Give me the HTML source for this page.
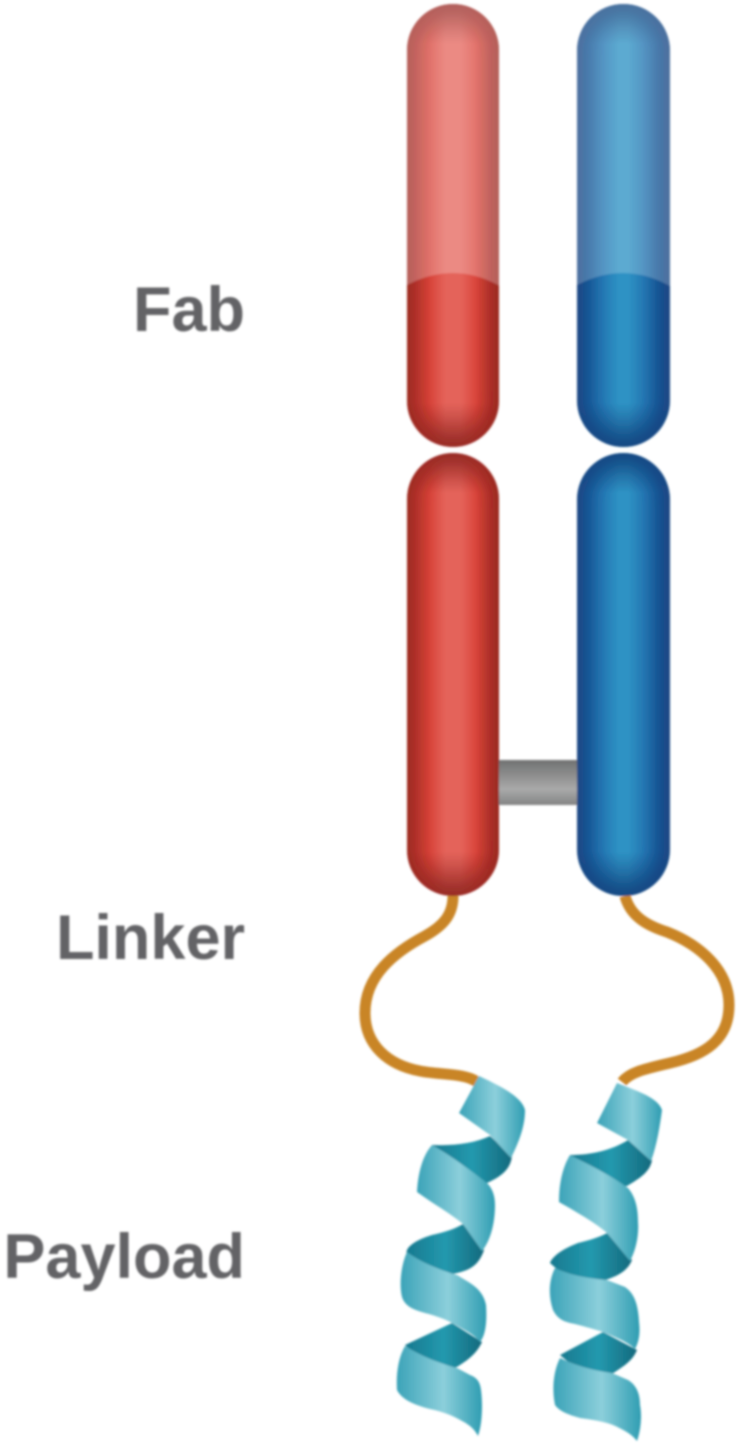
<!DOCTYPE html>
<html><head><meta charset="utf-8"><style>
html,body{margin:0;padding:0;background:#fff}
svg{display:block}
text{font-family:"Liberation Sans",sans-serif;font-weight:bold;font-size:63px;fill:#636466;text-anchor:end}
</style></head><body>
<svg width="748" height="1455" viewBox="0 0 748 1455" xmlns="http://www.w3.org/2000/svg">
<defs>
<linearGradient id="r" x1="0" x2="1" y1="0" y2="0">
<stop offset="0" stop-color="#a8302a"/><stop offset=".1" stop-color="#c0372f"/><stop offset=".25" stop-color="#da463c"/><stop offset=".42" stop-color="#e4635a"/><stop offset=".58" stop-color="#e4635a"/><stop offset=".75" stop-color="#dc483e"/><stop offset=".9" stop-color="#bb352d"/><stop offset="1" stop-color="#a32e28"/>
</linearGradient>
<linearGradient id="b" x1="0" x2="1" y1="0" y2="0">
<stop offset="0" stop-color="#1b4f8c"/><stop offset=".12" stop-color="#1d5e9e"/><stop offset=".3" stop-color="#257cb6"/><stop offset=".45" stop-color="#2e92c4"/><stop offset=".55" stop-color="#2e92c4"/><stop offset=".7" stop-color="#257bb5"/><stop offset=".88" stop-color="#1c5a9a"/><stop offset="1" stop-color="#1a4d8a"/>
</linearGradient>
<linearGradient id="re" x1="0" x2="0" y1="0" y2="1">
<stop offset="0" stop-color="#8e2420" stop-opacity=".8"/><stop offset=".09" stop-color="#8e2420" stop-opacity="0"/><stop offset=".9" stop-color="#8e2420" stop-opacity="0"/><stop offset="1" stop-color="#8e2420" stop-opacity=".8"/>
</linearGradient>
<linearGradient id="be" x1="0" x2="0" y1="0" y2="1">
<stop offset="0" stop-color="#123f7a" stop-opacity=".8"/><stop offset=".09" stop-color="#123f7a" stop-opacity="0"/><stop offset=".9" stop-color="#123f7a" stop-opacity="0"/><stop offset="1" stop-color="#123f7a" stop-opacity=".8"/>
</linearGradient>
<linearGradient id="g" x1="0" x2="0" y1="0" y2="1">
<stop offset="0" stop-color="#707171"/><stop offset=".3" stop-color="#8a8b8b"/><stop offset=".65" stop-color="#a9aaaa"/><stop offset="1" stop-color="#838484"/>
</linearGradient>
<linearGradient id="t" x1="0" x2="1" y1="0" y2="0">
<stop offset="0" stop-color="#3ba3b8"/><stop offset=".55" stop-color="#8ccfdb"/><stop offset="1" stop-color="#2f9db2"/>
</linearGradient>
<linearGradient id="d" x1="0" x2="1" y1="0" y2="0">
<stop offset="0" stop-color="#17798f"/><stop offset=".5" stop-color="#2399ae"/><stop offset="1" stop-color="#14697d"/>
</linearGradient>
<filter id="s" x="-30%" y="-30%" width="160%" height="160%"><feGaussianBlur stdDeviation="10"/></filter>
<filter id="soft" x="-5%" y="-5%" width="110%" height="110%"><feGaussianBlur stdDeviation="1.1"/></filter>
<clipPath id="c1"><rect x="407" y="4" width="92" height="443" rx="46"/></clipPath>
<clipPath id="c2"><rect x="407" y="453" width="92" height="443" rx="46"/></clipPath>
<clipPath id="c3"><rect x="577" y="4" width="93" height="443" rx="46.5"/></clipPath>
<clipPath id="c4"><rect x="577" y="453" width="93" height="443" rx="46.5"/></clipPath>
</defs>

<g filter="url(#soft)">
<rect x="497" y="760" width="82" height="45" fill="url(#g)"/>

<g fill="none" stroke="#c98526" stroke-width="11" stroke-linecap="butt">
<path d="M453 896C453 915 443 926 425 936C395 952 365 975 365 1013C365 1045 388 1065 420 1071C440 1075 465 1073 477 1082"/>
<path d="M625 896C630 915 645 925 667 932C700 945 729 970 729 1005C729 1040 705 1055 670 1063C645 1069 630 1072 622 1082"/>
</g>

<g clip-path="url(#c1)">
<rect x="407" y="4" width="92" height="443" fill="url(#r)"/>
<rect x="407" y="4" width="92" height="443" rx="46" fill="none" stroke="#8e2420" stroke-width="16" stroke-opacity=".7" filter="url(#s)"/>
<rect x="407" y="4" width="92" height="443" fill="url(#re)"/>
<path d="M400 0H505V289Q453 257 400 289Z" fill="#fff" fill-opacity=".25"/>
</g>
<g clip-path="url(#c2)">
<rect x="407" y="453" width="92" height="443" fill="url(#r)"/>
<rect x="407" y="453" width="92" height="443" rx="46" fill="none" stroke="#8e2420" stroke-width="16" stroke-opacity=".7" filter="url(#s)"/>
<rect x="407" y="453" width="92" height="443" fill="url(#re)"/>
</g>

<g clip-path="url(#c3)">
<rect x="577" y="4" width="93" height="443" fill="url(#b)"/>
<rect x="577" y="4" width="93" height="443" rx="46.5" fill="none" stroke="#123f7a" stroke-width="16" stroke-opacity=".65" filter="url(#s)"/>
<rect x="577" y="4" width="93" height="443" fill="url(#be)"/>
<path d="M570 0H675V289Q623 257 570 289Z" fill="#fff" fill-opacity=".22"/>
</g>
<g clip-path="url(#c4)">
<rect x="577" y="453" width="93" height="443" fill="url(#b)"/>
<rect x="577" y="453" width="93" height="443" rx="46.5" fill="none" stroke="#123f7a" stroke-width="16" stroke-opacity=".65" filter="url(#s)"/>
<rect x="577" y="453" width="93" height="443" fill="url(#be)"/>
</g>

<!-- left helix -->
<path fill="url(#d)" d="M432 1145C455 1146 475 1143 490 1136L512 1155C511 1170 500 1177 487 1183L460 1190L440 1165Z"/>
<path fill="url(#d)" d="M463 1224L484 1250C479 1265 470 1270 457 1273L430 1280L407 1255C404 1248 415 1240 432 1235C445 1232 455 1229 463 1224Z"/>
<path fill="url(#d)" d="M452 1323L482 1342C476 1355 465 1362 455 1368L425 1365L405 1345Z"/>
<path fill="url(#t)" d="M479 1076L459 1113L490 1135L511 1158C520 1140 525 1125 525 1110C522 1098 505 1088 479 1076Z"/>
<path fill="url(#t)" d="M432 1145C423 1155 418 1172 417 1192C435 1205 450 1213 463 1224L482 1251C491 1240 495 1222 495 1205C495 1195 492 1188 487 1183C470 1170 450 1155 432 1145Z"/>
<path fill="url(#t)" d="M407 1252C401 1265 399 1285 402 1297C405 1307 415 1310 425 1313C437 1316 447 1320 452 1323C465 1330 475 1335 480 1342C486 1335 487 1320 486 1305C484 1295 478 1288 470 1283L457 1275C440 1270 420 1262 407 1252Z"/>
<path fill="url(#t)" d="M405 1346C398 1358 396 1375 397 1390C402 1400 415 1405 430 1409C445 1412 455 1417 462 1421C470 1425 475 1430 478 1436C482 1425 483 1405 481 1390C480 1380 475 1377 470 1375L457 1368C435 1362 420 1355 405 1346Z"/>

<!-- right helix -->
<path fill="url(#d)" d="M570 1155C592 1155 612 1150 628 1140L652 1160C650 1172 640 1178 627 1186L595 1190L580 1170Z"/>
<path fill="url(#d)" d="M607 1233L632 1260C627 1272 617 1276 603 1281L575 1285L550 1263C553 1255 565 1248 578 1243C590 1240 600 1237 607 1233Z"/>
<path fill="url(#d)" d="M603 1332L637 1350C632 1362 622 1367 612 1374L580 1372L560 1355Z"/>
<path fill="url(#t)" d="M617 1083L597 1123L628 1140L651 1161C657 1145 660 1125 662 1110C658 1098 640 1092 617 1083Z"/>
<path fill="url(#t)" d="M570 1155C562 1168 559 1185 559 1202C580 1214 597 1224 607 1233L630 1261C636 1250 639 1235 638 1222C638 1205 634 1195 628 1188C610 1175 590 1165 570 1155Z"/>
<path fill="url(#t)" d="M555 1268C549 1280 548 1295 553 1310C558 1320 565 1322 575 1324C590 1328 597 1330 603 1332C615 1337 628 1342 635 1349C640 1340 640 1330 639 1322C638 1300 632 1292 625 1287L607 1280C585 1278 570 1275 555 1268Z"/>
<path fill="url(#t)" d="M560 1358C553 1372 552 1390 555 1405C560 1412 570 1415 580 1418C595 1420 605 1422 613 1425C622 1429 632 1434 637 1441C641 1430 642 1415 640 1405C640 1392 635 1384 628 1380L612 1373C590 1370 575 1365 560 1358Z"/>

<text x="245" y="331">Fab</text>
<text x="245" y="959">Linker</text>
<text x="245" y="1278">Payload</text>
</g>
</svg>
</body></html>
